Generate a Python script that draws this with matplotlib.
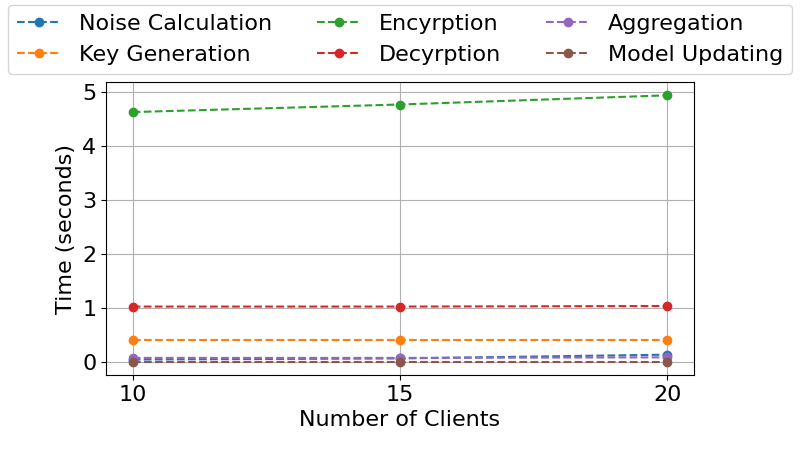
import matplotlib
matplotlib.use('Agg')
import matplotlib.pyplot as plt

# number of clients on the x-axis
clients = [10, 15, 20]

# timing of each step (seconds)
noise_calc = [0.05, 0.07, 0.14]
key_gen = [0.41, 0.41, 0.41]
encryption = [4.63, 4.77, 4.94]
decryption = [1.03, 1.03, 1.04]
aggregation = [0.08, 0.08, 0.09]
model_update = [0.01, 0.01, 0.01]

labels = ['Noise Calculation', 'Key Generation', 'Encyrption',
          'Decyrption', 'Aggregation', 'Model Updating']
series = [noise_calc, key_gen, encryption, decryption, aggregation, model_update]

plt.rcParams['font.size'] = 16

fig = plt.figure(figsize=(8, 4.54), dpi=100)
ax = fig.add_axes([106 / 800, 1 - 375 / 454, 588 / 800, 293 / 454])

for values, label in zip(series, labels):
    ax.plot(clients, values, linestyle='--', marker='o', label=label)

ax.set_xticks(clients)
ax.set_xlabel('Number of Clients')
ax.set_ylabel('Time (seconds)')
ax.grid()
ax.legend(ncol=3, loc='lower center', bbox_to_anchor=(0.5, 0.99))

fig.savefig('out.png', dpi=100)
